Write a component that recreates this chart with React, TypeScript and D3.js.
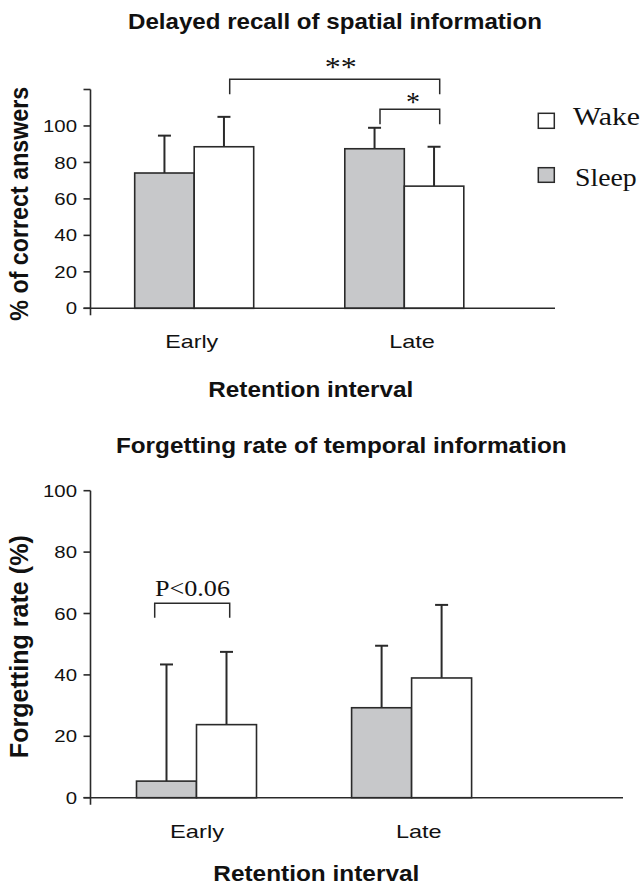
import React from 'react';
import * as d3 from 'd3';

const groups = ['Early', 'Late'];
const series = ['Sleep', 'Wake'];

const spatialSleep = [74.2, 87.5];
const spatialSleepErr = [20.5, 11.5];
const spatialWake = [88.6, 67.0];
const spatialWakeErr = [16.4, 21.6];
const spatialTicks = [0, 20, 40, 60, 80, 100, 120];
const spatialTickLabels = ['0', '20', '40', '60', '80', '100', ''];

const temporalSleep = [5.4, 29.3];
const temporalSleepErr = [38.0, 20.2];
const temporalWake = [23.8, 39.0];
const temporalWakeErr = [23.7, 23.8];
const temporalTicks = [0, 20, 40, 60, 80, 100];
const temporalTickLabels = ['0', '20', '40', '60', '80', '100'];

const SANS = '"Liberation Sans", Arial, Helvetica, sans-serif';
const SERIF = '"Liberation Serif", "Times New Roman", serif';
const INK = '#2a2a2a';
const SLEEP_FILL = '#c7c8ca';
const WAKE_FILL = '#ffffff';

type PanelProps = {
  sleep: number[];
  sleepErr: number[];
  wake: number[];
  wakeErr: number[];
  ticks: number[];
  tickLabels: string[];
  yMax: number;
  yZero: number;
  yTop: number;
  centers: [number, number];
  labelCenters: [number, number];
  bw: number;
  axisX: number;
  axisEnd: number;
  title: string;
  titleX: number;
  titleY: number;
  titleLen: number;
  ylabel: string;
  ylabelCy: number;
  ylabelLen: number;
  catY: number;
  catLens: number[];
  retX: number;
  retY: number;
  retLen: number;
  children?: (y: d3.ScaleLinear<number, number>, x: (g: string, s: string) => number) => React.ReactNode;
};

function Panel(p: PanelProps) {
  const y = d3.scaleLinear().domain([0, p.yMax]).range([p.yZero, p.yTop]);
  const xg = d3.scalePoint<string>().domain(groups).range(p.centers);
  const xs = d3.scaleBand<string>().domain(series).range([-p.bw, p.bw]);
  const xl = d3.scalePoint<string>().domain(groups).range(p.labelCenters);
  const barX = (g: string, s: string) => (xg(g) as number) + (xs(s) as number);
  const bars: { g: string; s: string; v: number; e: number }[] = [];
  groups.forEach((g, i) => {
    bars.push({ g, s: 'Sleep', v: p.sleep[i], e: p.sleepErr[i] });
    bars.push({ g, s: 'Wake', v: p.wake[i], e: p.wakeErr[i] });
  });
  const capHalf = 6.5;
  return (
    <g>
      <text
        x={p.titleX}
        y={p.titleY}
        textAnchor="middle"
        fontFamily={SANS}
        fontWeight="bold"
        fontSize={22}
        textLength={p.titleLen}
        lengthAdjust="spacingAndGlyphs"
        fill="#111"
      >
        {p.title}
      </text>
      <text
        transform={`translate(28,${p.ylabelCy}) scale(1.1,1) rotate(-90)`}
        textAnchor="middle"
        fontFamily={SANS}
        fontWeight="bold"
        fontSize={23}
        textLength={p.ylabelLen}
        lengthAdjust="spacingAndGlyphs"
        fill="#111"
      >
        {p.ylabel}
      </text>
      {bars.map((b, i) => {
        const x0 = barX(b.g, b.s);
        const cx = x0 + xs.bandwidth() / 2;
        return (
          <g key={i}>
            <line x1={cx} x2={cx} y1={y(b.v)} y2={y(b.v + b.e)} stroke={INK} strokeWidth={2} />
            <line x1={cx - capHalf} x2={cx + capHalf} y1={y(b.v + b.e)} y2={y(b.v + b.e)} stroke={INK} strokeWidth={2} />
            <rect
              x={x0}
              y={y(b.v)}
              width={xs.bandwidth()}
              height={y(0) - y(b.v)}
              fill={b.s === 'Sleep' ? SLEEP_FILL : WAKE_FILL}
              stroke={INK}
              strokeWidth={1.6}
            />
          </g>
        );
      })}
      <line x1={p.axisX} x2={p.axisX} y1={y(p.yMax)} y2={y(0) + 7} stroke={INK} strokeWidth={1.6} />
      <line x1={p.axisX - 7} x2={p.axisEnd} y1={y(0)} y2={y(0)} stroke={INK} strokeWidth={1.6} />
      {p.ticks.map((t, i) => (
        <g key={t}>
          <line x1={p.axisX - 7} x2={p.axisX} y1={y(t)} y2={y(t)} stroke={INK} strokeWidth={1.6} />
          {p.tickLabels[i] ? (
            <text
              transform={`translate(${p.axisX - 13.5},${y(t)}) scale(1.2,1)`}
              textAnchor="end"
              dy="0.36em"
              fontFamily={SANS}
              fontSize={17}
              fill="#111"
            >
              {p.tickLabels[i]}
            </text>
          ) : null}
        </g>
      ))}
      {groups.map((g, i) => (
        <text
          key={g}
          x={xl(g) as number}
          y={p.catY}
          textAnchor="middle"
          fontFamily={SANS}
          fontSize={19}
          textLength={p.catLens[i]}
          lengthAdjust="spacingAndGlyphs"
          fill="#111"
        >
          {g}
        </text>
      ))}
      <text
        x={p.retX}
        y={p.retY}
        textAnchor="middle"
        fontFamily={SANS}
        fontWeight="bold"
        fontSize={22}
        textLength={p.retLen}
        lengthAdjust="spacingAndGlyphs"
        fill="#111"
      >
        Retention interval
      </text>
      {p.children ? p.children(y, barX) : null}
    </g>
  );
}

export default function App() {
  return (
    <svg
      width={644}
      height={885}
      viewBox="0 0 644 885"
      style={{ position: 'absolute', left: 0, top: 0, background: '#fff' }}
    >
      <Panel
        sleep={spatialSleep}
        sleepErr={spatialSleepErr}
        wake={spatialWake}
        wakeErr={spatialWakeErr}
        ticks={spatialTicks}
        tickLabels={spatialTickLabels}
        yMax={120}
        yZero={308.3}
        yTop={89.5}
        centers={[194.2, 404.3]}
        labelCenters={[191.7, 412]}
        bw={59.5}
        axisX={90.5}
        axisEnd={555}
        title="Delayed recall of spatial information"
        titleX={335}
        titleY={29.3}
        titleLen={414}
        ylabel="% of correct answers"
        ylabelCy={203.7}
        ylabelLen={234}
        catY={348.3}
        catLens={[53, 45.7]}
        retX={310.8}
        retY={396.5}
        retLen={205}
      >
        {(y) => (
          <g>
            <path d="M229.7,94.3 V79.3 H439.7 V94.3" fill="none" stroke={INK} strokeWidth={1.5} />
            <path d="M380,124.3 V109.3 H439.7 V124.3" fill="none" stroke={INK} strokeWidth={1.5} />
            <text x={340.8} y={75.6} textAnchor="middle" fontFamily={SERIF} fontSize={28} textLength={32} lengthAdjust="spacingAndGlyphs" fill="#111">**</text>
            <text x={413} y={110.6} textAnchor="middle" fontFamily={SERIF} fontSize={28} fill="#111">*</text>
            <rect x={538.3} y={113.3} width={16} height={15} fill={WAKE_FILL} stroke={INK} strokeWidth={1.5} />
            <rect x={538.3} y={167.7} width={16} height={14.6} fill={SLEEP_FILL} stroke={INK} strokeWidth={1.5} />
            <text x={573} y={125} fontFamily={SERIF} fontSize={26} textLength={67} lengthAdjust="spacingAndGlyphs" fill="#111">Wake</text>
            <text x={575} y={185.7} fontFamily={SERIF} fontSize={26} textLength={61.7} lengthAdjust="spacingAndGlyphs" fill="#111">Sleep</text>
          </g>
        )}
      </Panel>
      <Panel
        sleep={temporalSleep}
        sleepErr={temporalSleepErr}
        wake={temporalWake}
        wakeErr={temporalWakeErr}
        ticks={temporalTicks}
        tickLabels={temporalTickLabels}
        yMax={100}
        yZero={797.7}
        yTop={490.7}
        centers={[196.5, 411.6]}
        labelCenters={[197, 418.8]}
        bw={60}
        axisX={90.5}
        axisEnd={623}
        title="Forgetting rate of temporal information"
        titleX={341.3}
        titleY={452.5}
        titleLen={450.7}
        ylabel="Forgetting rate (%)"
        ylabelCy={646.7}
        ylabelLen={223}
        catY={838.3}
        catLens={[54, 45.7]}
        retX={316.3}
        retY={881}
        retLen={206}
      >
        {() => (
          <g>
            <path d="M154.7,617.7 V603.3 H229.7 V617.7" fill="none" stroke={INK} strokeWidth={1.5} />
            <text x={192.5} y={596} textAnchor="middle" fontFamily={SERIF} fontSize={24} textLength={75} lengthAdjust="spacingAndGlyphs" fill="#111">P&lt;0.06</text>
          </g>
        )}
      </Panel>
    </svg>
  );
}
